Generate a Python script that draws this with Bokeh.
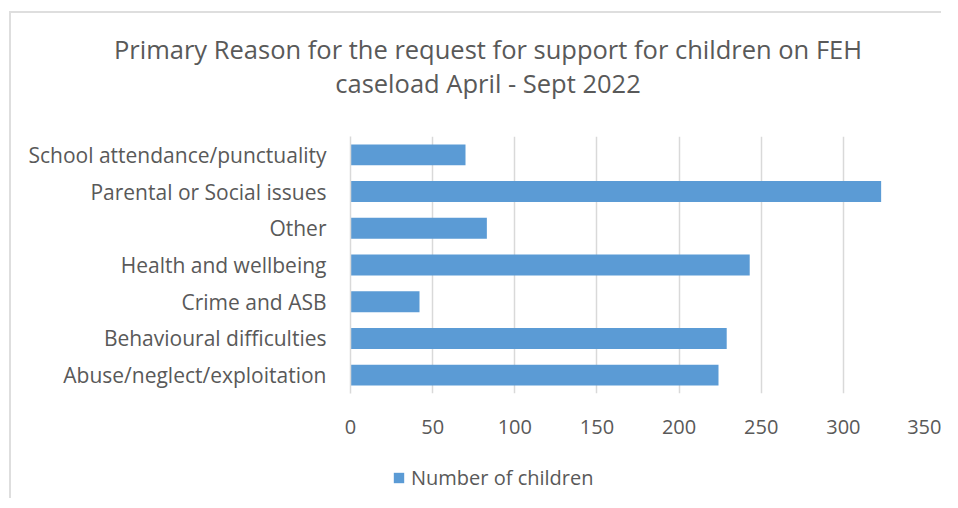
from bokeh.plotting import figure
from bokeh.layouts import column
from bokeh.models import (FactorRange, Range1d, FixedTicker, Legend, LegendItem, Div)
from bokeh.embed import file_html
from bokeh.resources import INLINE

categories = ["School attendance/punctuality", "Parental or Social issues", "Other",
              "Health and wellbeing", "Crime and ASB", "Behavioural difficulties",
              "Abuse/neglect/exploitation"]
values = [70, 323, 83, 243, 42, 229, 224]
x_ticks = [0, 50, 100, 150, 200, 250, 300, 350]
series_name = "Number of children"
title_line1 = "Primary Reason for the request for support for children on FEH"
title_line2 = "caseload April - Sept 2022"

FONT = "Open Sans"
TXT = "#595959"
BAR = "#5b9bd5"
GRID = "#d9d9d9"

# title block
title_div = Div(
    text=('<div style="padding-top:19px; margin-left:24px; width:906px; text-align:center; '
          'font-family:\'Open Sans\'; font-size:25.5px; line-height:34px; color:#595959; '
          'white-space:nowrap;">'
          + title_line1 + '<br>' + title_line2 + '</div>'),
    width=930, height=110, margin=0)

# main chart
p = figure(width=930, height=330, output_backend="svg", toolbar_location=None,
           y_range=FactorRange(factors=list(reversed(categories)), range_padding=0),
           x_range=Range1d(0, 350),
           min_border_left=339, min_border_right=16, min_border_top=13, min_border_bottom=60,
           title=None)
p.outline_line_color = None
p.background_fill_color = "white"
p.border_fill_color = "white"

r = p.hbar(y=categories, right=values, left=0, height=0.57, fill_color=BAR, line_color=None)

p.xaxis.ticker = FixedTicker(ticks=x_ticks)
p.xaxis.axis_line_color = None
p.xaxis.major_tick_line_color = None
p.xaxis.major_tick_out = 0
p.xaxis.major_tick_in = 0
p.xaxis.minor_tick_line_color = None
p.xaxis.major_label_text_font = FONT
p.xaxis.major_label_text_font_size = "20px"
p.xaxis.major_label_text_color = TXT
p.xaxis.major_label_standoff = 26

p.yaxis.axis_line_color = GRID
p.yaxis.axis_line_width = 1.5
p.yaxis.major_tick_line_color = None
p.yaxis.major_tick_out = 0
p.yaxis.major_tick_in = 0
p.yaxis.minor_tick_line_color = None
p.yaxis.major_label_text_font = FONT
p.yaxis.major_label_text_font_size = "21px"
p.yaxis.major_label_text_color = TXT
p.yaxis.major_label_standoff = 24

p.xgrid.grid_line_color = GRID
p.xgrid.grid_line_width = 1.5
p.xgrid.ticker = FixedTicker(ticks=x_ticks)
p.ygrid.grid_line_color = None

# legend strip below the chart (frame aligned with the chart's frame);
# its bars are not part of this strip's ranges, so only the legend shows
p2 = figure(width=930, height=45, output_backend="svg", toolbar_location=None,
            min_border=0, x_range=Range1d(400, 500),
            y_range=FactorRange(factors=["legend"]))
p2.axis.visible = False
p2.grid.grid_line_color = None
p2.outline_line_color = None
p2.background_fill_color = "white"
p2.border_fill_color = "white"
r2 = p2.hbar(y=categories, right=values, left=0, height=0.57, fill_color=BAR, line_color=None)
legend = Legend(items=[LegendItem(label=series_name, renderers=[r2])],
                location=(42, 7),
                glyph_width=13, glyph_height=13, label_standoff=6,
                label_text_font=FONT, label_text_font_size="20px", label_text_color=TXT,
                border_line_color=None, background_fill_alpha=0,
                margin=0, padding=0)
p2.add_layout(legend, "center")

layout = column(title_div, p, p2, spacing=0)
layout.margin = (11, 0, 0, 9)
layout.styles = {"border-left": "2px solid #dedede", "border-top": "2px solid #dedede"}

open("out.html", "w").write(file_html(layout, INLINE))
